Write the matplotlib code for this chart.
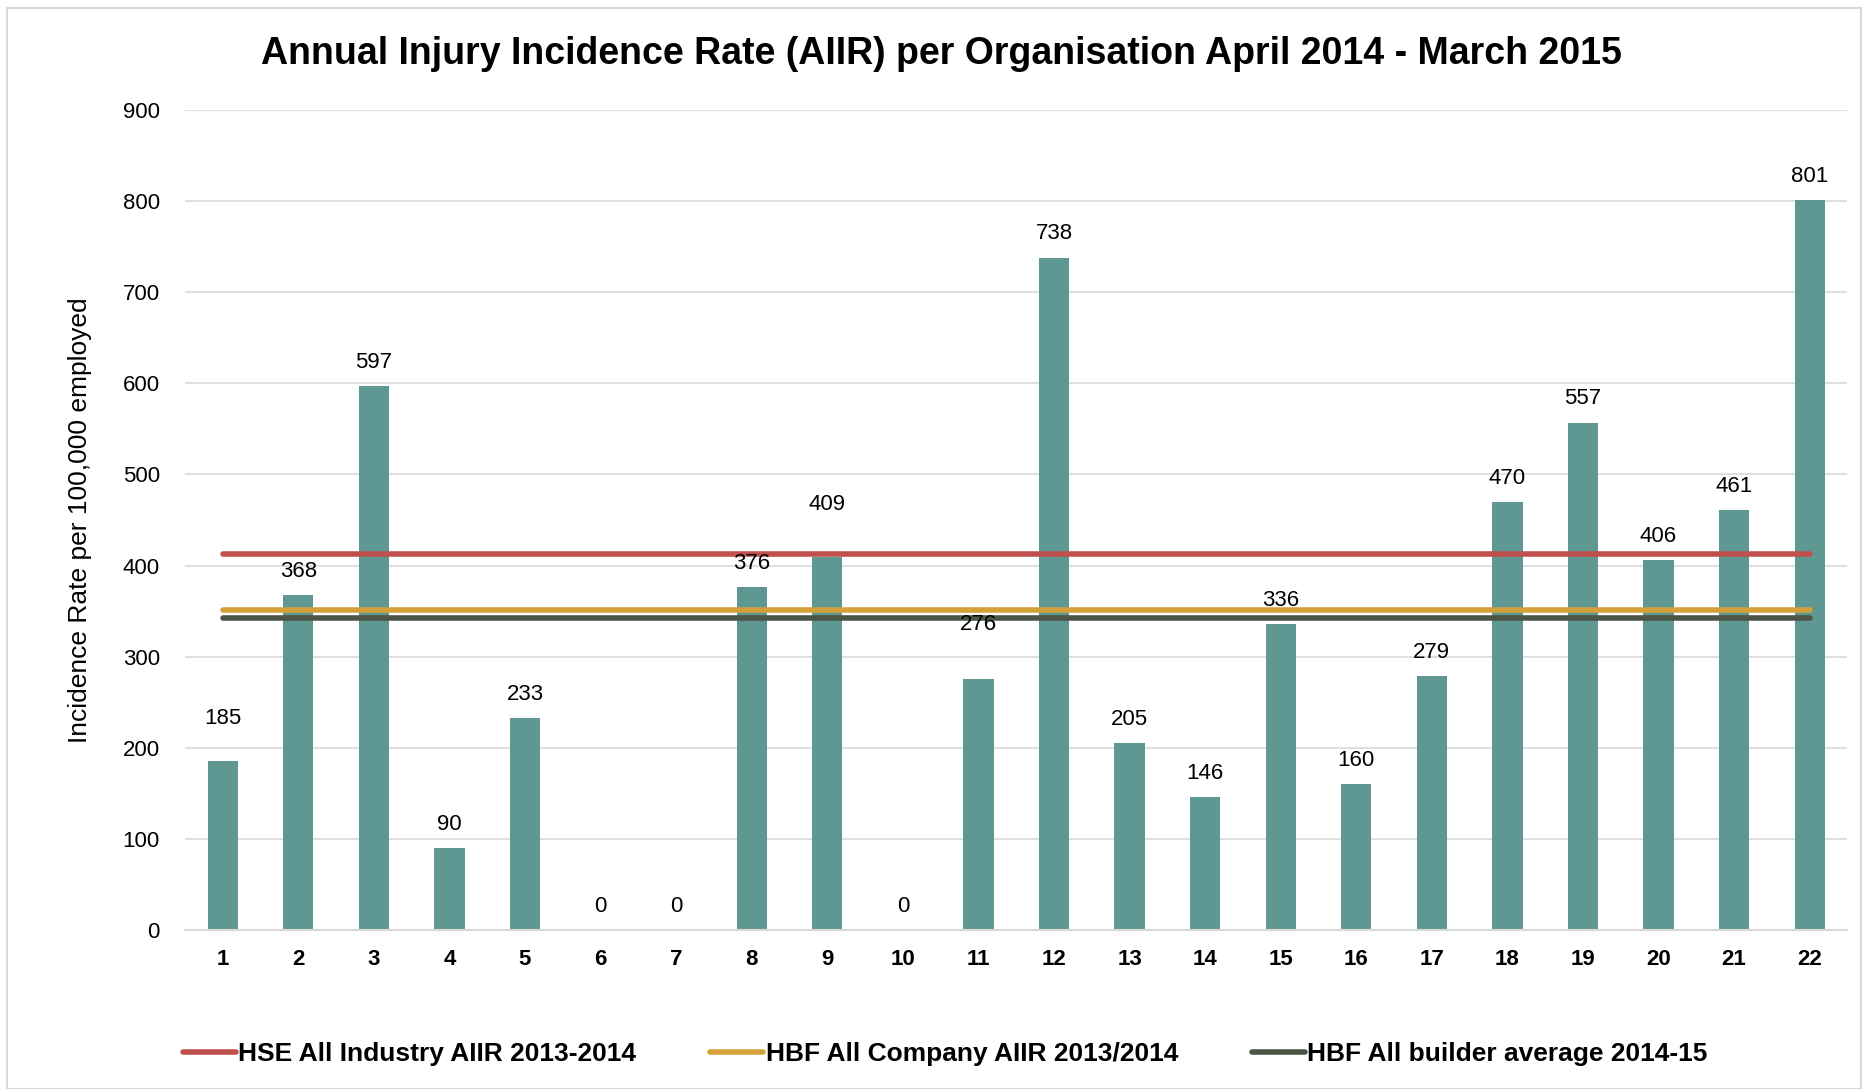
import numpy as np
import matplotlib
matplotlib.use("Agg")
import matplotlib.pyplot as plt
from matplotlib.patches import Rectangle

# organisations 1..22 and their AIIR values
orgs = [str(i) for i in range(1, 23)]
aiir = [185, 368, 597, 90, 233, 0, 0, 376, 409, 0, 276, 738,
        205, 146, 336, 160, 279, 470, 557, 406, 461, 801]

# benchmark lines
hse_industry = 413
hbf_company = 351
hbf_builder = 342

# label offsets (points above bar top) - a few labels sit higher in the original
label_offset = [31, 17, 17, 17, 17, 17, 17, 17, 38, 17, 39, 17,
                17, 17, 17, 17, 17, 17, 17, 17, 17, 17]

plt.rcParams['font.family'] = ['Liberation Sans', 'DejaVu Sans']

fig = plt.figure(figsize=(18.68, 10.89), dpi=100)
ax = fig.add_axes([0.099, 0.146, 0.89, 0.753])

x = np.arange(len(orgs))
ax.bar(x, aiir, width=0.4, color='#5F9792', zorder=2)

ax.plot(x, [hse_industry] * len(x), color='#C0504D', lw=4, solid_capstyle='round',
        label='HSE All Industry AIIR 2013-2014', zorder=3)
ax.plot(x, [hbf_company] * len(x), color='#D4A03A', lw=4, solid_capstyle='round',
        label='HBF All Company AIIR 2013/2014', zorder=3)
ax.plot(x, [hbf_builder] * len(x), color='#4B5647', lw=4, solid_capstyle='round',
        label='HBF All builder average 2014-15', zorder=3)

for xi, v, off in zip(x, aiir, label_offset):
    ax.annotate(str(v), (xi, v), xytext=(0, off), textcoords='offset points',
                ha='center', va='center', fontsize=16, color='black', zorder=4)

ax.set_xlim(-0.5, len(orgs) - 0.5)
ax.set_ylim(0, 900)
ax.set_yticks(range(0, 901, 100))
ax.set_xticks(x)
ax.set_xticklabels(orgs, fontsize=16, fontweight='bold')
ax.tick_params(axis='y', labelsize=16, length=0, pad=18)
ax.tick_params(axis='x', length=0, pad=14)
ax.grid(axis='y', color='#D9D9D9', lw=1.2, zorder=0)
ax.set_axisbelow(True)
for s in ['top', 'right', 'left']:
    ax.spines[s].set_visible(False)
ax.spines['bottom'].set_color('#D9D9D9')
ax.spines['bottom'].set_linewidth(1.5)

ax.set_ylabel('Incidence Rate per 100,000 employed', fontsize=19, labelpad=22)

fig.suptitle('Annual Injury Incidence Rate (AIIR) per Organisation April 2014 - March 2015',
             x=0.504, y=0.967, fontsize=27, fontweight='bold')

leg = fig.legend(loc='center', bbox_to_anchor=(0.506, 0.032), ncol=3, frameon=False,
                 prop={'size': 19, 'weight': 'bold'}, handlelength=2.0,
                 handletextpad=0.1, columnspacing=2.8)

fig.patches.append(Rectangle((0.004, 0.0), 0.992, 0.993, transform=fig.transFigure,
                             fill=False, edgecolor='#D9D9D9', lw=1.5))

fig.savefig('out.png', dpi=100)
